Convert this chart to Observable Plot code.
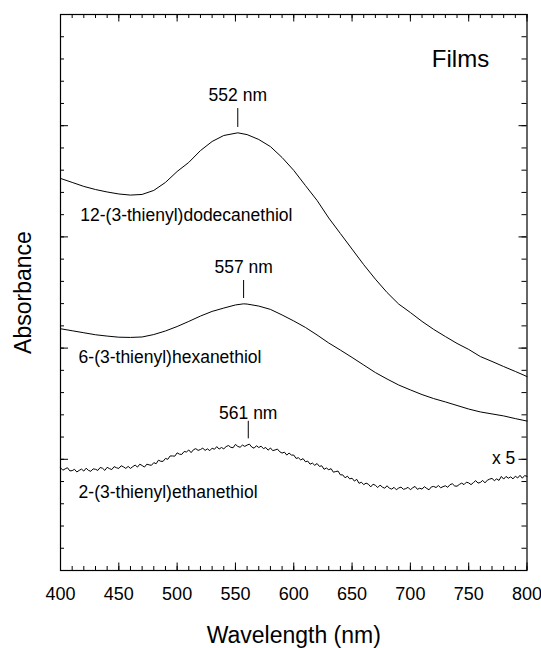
<!DOCTYPE html>
<html>
<head>
<meta charset="utf-8">
<script src="https://cdn.jsdelivr.net/npm/d3@7"></script>
<script src="https://cdn.jsdelivr.net/npm/@observablehq/plot@0.6"></script>
<style>
  html, body { margin: 0; padding: 0; background: #fff; }
  #chart { width: 541px; height: 648px; }
</style>
</head>
<body>
<div id="chart"></div>
<script>
// ---- data ----
const xTickLabels = [400, 450, 500, 550, 600, 650, 700, 750, 800];
const yMajorTicks = [0, 0.5, 1, 1.5, 2, 2.5];

const dodecWl = [400,410,420,430,440,450,460,470,480,490,500,510,520,530,540,552,560,570,580,590,600,610,620,630,640,650,660,670,680,690,700,710,720,730,740,750,760,770,780,790,800];
const dodecAbs = [1.763,1.745,1.727,1.713,1.702,1.693,1.688,1.691,1.709,1.745,1.794,1.835,1.888,1.929,1.956,1.968,1.960,1.938,1.906,1.857,1.799,1.731,1.664,1.585,1.515,1.445,1.375,1.310,1.250,1.198,1.160,1.120,1.084,1.052,1.021,0.994,0.962,0.940,0.917,0.895,0.872];

const hexWl = [400,410,420,430,440,450,460,470,480,490,500,510,520,530,540,550,557,560,570,580,590,600,610,620,630,640,650,660,670,680,690,700,710,720,730,740,750,760,770,780,790,800];
const hexAbs = [1.087,1.078,1.069,1.060,1.054,1.049,1.048,1.050,1.061,1.077,1.097,1.120,1.144,1.165,1.180,1.194,1.199,1.198,1.189,1.174,1.149,1.122,1.093,1.059,1.023,0.991,0.958,0.924,0.890,0.861,0.834,0.812,0.791,0.773,0.758,0.742,0.726,0.713,0.704,0.695,0.683,0.672];

// ethanethiol (x 5), sampled every 2 nm from 400 to 800 (noisy trace)
const ethAbs = [
  0.462,0.451,0.457,0.462,0.448, 0.449,0.455,0.443,0.450,0.456,
  0.447,0.460,0.450,0.446,0.457, 0.455,0.450,0.463,0.460,0.450,
  0.464,0.458,0.454,0.467,0.462, 0.459,0.471,0.466,0.459,0.468,
  0.459,0.467,0.474,0.465,0.478, 0.472,0.465,0.478,0.475,0.473,
  0.485,0.480,0.496,0.491,0.491, 0.504,0.500,0.515,0.515,0.514,
  0.529,0.523,0.522,0.535,0.533, 0.542,0.530,0.543,0.548,0.540,
  0.544,0.550,0.540,0.547,0.539, 0.550,0.545,0.557,0.546,0.553,
  0.547,0.557,0.562,0.554,0.552, 0.567,0.558,0.554,0.564,0.558,
  0.564,0.568,0.555,0.550,0.561, 0.553,0.559,0.548,0.553,0.541,
  0.551,0.539,0.542,0.546,0.534, 0.528,0.532,0.519,0.528,0.519,
  0.519,0.504,0.507,0.497,0.503, 0.489,0.492,0.478,0.483,0.473,
  0.481,0.468,0.471,0.455,0.461, 0.453,0.458,0.442,0.445,0.447,
  0.430,0.430,0.417,0.424,0.412, 0.415,0.402,0.410,0.392,0.397,
  0.386,0.393,0.388,0.376,0.388, 0.383,0.373,0.384,0.375,0.370,
  0.381,0.370,0.366,0.374,0.363, 0.371,0.375,0.365,0.368,0.374,
  0.363,0.372,0.378,0.365,0.370, 0.366,0.377,0.369,0.363,0.376,
  0.378,0.373,0.382,0.372,0.377, 0.381,0.374,0.386,0.390,0.380,
  0.379,0.387,0.393,0.386,0.397, 0.394,0.386,0.395,0.404,0.393,
  0.396,0.405,0.394,0.406,0.411, 0.414,0.404,0.412,0.405,0.423,
  0.411,0.423,0.415,0.421,0.412, 0.424,0.416,0.428,0.415,0.427,
  0.423
];
const ethWl = d3.range(400, 801, 2);

const peakLabels = ["552 nm", "557 nm", "561 nm"];
const peakWl = [552, 557, 561];
const peakTextY = [2.138, 1.364, 0.705];
const peakLineTop = [2.077, 1.304, 0.671];
const peakLineBottom = [1.992, 1.223, 0.592];

const curveLabels = ["12-(3-thienyl)dodecanethiol", "6-(3-thienyl)hexanethiol", "2-(3-thienyl)ethanethiol"];
const curveLabelWl = [417, 415.5, 415.5];
const curveLabelY = [1.596, 0.959, 0.352];

// ---- build tables ----
const series = [
  ...dodecWl.map((w, i) => ({s: "dodec", wl: w, a: dodecAbs[i]})),
  ...hexWl.map((w, i) => ({s: "hex", wl: w, a: hexAbs[i]})),
  ...ethWl.map((w, i) => ({s: "eth", wl: w, a: ethAbs[i]}))
];
const peaks = peakLabels.map((t, i) => ({t, wl: peakWl[i], ty: peakTextY[i], y1: peakLineTop[i], y2: peakLineBottom[i]}));
const labels = curveLabels.map((t, i) => ({t, wl: curveLabelWl[i], y: curveLabelY[i]}));

const W = 541, H = 648;
const mL = 60, mR = 14.5, mT = 14, mB = 78;
const FW = W - mL - mR, FH = H - mT - mB;

const xMinor = d3.range(400, 801, 10);
const yMinor = d3.range(0, 26).map(i => i / 10);

const font = "'Liberation Sans', Arial, Helvetica, sans-serif";

const chart = Plot.plot({
  width: W,
  height: H,
  marginLeft: mL,
  marginRight: mR,
  marginTop: mT,
  marginBottom: mB,
  x: {domain: [400, 800], axis: null},
  y: {domain: [0, 2.5], axis: null},
  style: {fontFamily: font, background: "#fff", color: "#000", overflow: "visible"},
  marks: [
    // ticks (inward)
    Plot.tickX(xMinor, {x: d => d, insetTop: FH - 4, stroke: "#000"}),
    Plot.tickX(xMinor, {x: d => d, insetBottom: FH - 4, stroke: "#000"}),
    Plot.tickX(xTickLabels, {x: d => d, insetTop: FH - 7.5, stroke: "#000"}),
    Plot.tickX(xTickLabels, {x: d => d, insetBottom: FH - 7.5, stroke: "#000"}),
    Plot.tickY(yMinor, {y: d => d, insetRight: FW - 4, stroke: "#000"}),
    Plot.tickY(yMinor, {y: d => d, insetLeft: FW - 5, stroke: "#000"}),
    Plot.tickY(yMajorTicks, {y: d => d, insetRight: FW - 8, stroke: "#000"}),
    Plot.tickY(yMajorTicks, {y: d => d, insetLeft: FW - 8, stroke: "#000"}),
    Plot.frame({stroke: "#000", strokeWidth: 1.2}),
    // x tick labels
    Plot.axisX(xTickLabels, {anchor: "bottom", tickSize: 0, tickPadding: 17.2, fontSize: 18, label: null, fill: "#000"}),
    // curves
    Plot.line(series, {x: "wl", y: "a", z: "s", stroke: "#000", strokeWidth: 1}),
    // peak markers
    Plot.ruleX(peaks, {x: "wl", y1: "y1", y2: "y2", stroke: "#000", strokeWidth: 1}),
    Plot.text(peaks, {x: "wl", y: "ty", text: "t", fontSize: 17.5, lineAnchor: "middle", fill: "#000"}),
    // curve labels
    Plot.text(labels, {x: "wl", y: "y", text: "t", textAnchor: "start", fontSize: 17.5, lineAnchor: "middle", fill: "#000"}),
    Plot.text(["x 5"], {x: () => 790, y: () => 0.502, text: d => d, textAnchor: "end", fontSize: 17.5, lineAnchor: "middle", fill: "#000"}),
    Plot.text(["Films"], {x: () => 743, y: () => 2.3, text: d => d, textAnchor: "middle", fontSize: 24, lineAnchor: "middle", fill: "#000"}),
    // axis titles
    Plot.text(["Wavelength (nm)"], {frameAnchor: "bottom", dy: 65, text: d => d, textAnchor: "middle", fontSize: 23, lineAnchor: "middle", fill: "#000"}),
    Plot.text(["Absorbance"], {frameAnchor: "left", dx: -37, rotate: -90, text: d => d, textAnchor: "middle", fontSize: 23, lineAnchor: "middle", fill: "#000"})
  ]
});
document.getElementById("chart").appendChild(chart);
</script>
</body>
</html>
